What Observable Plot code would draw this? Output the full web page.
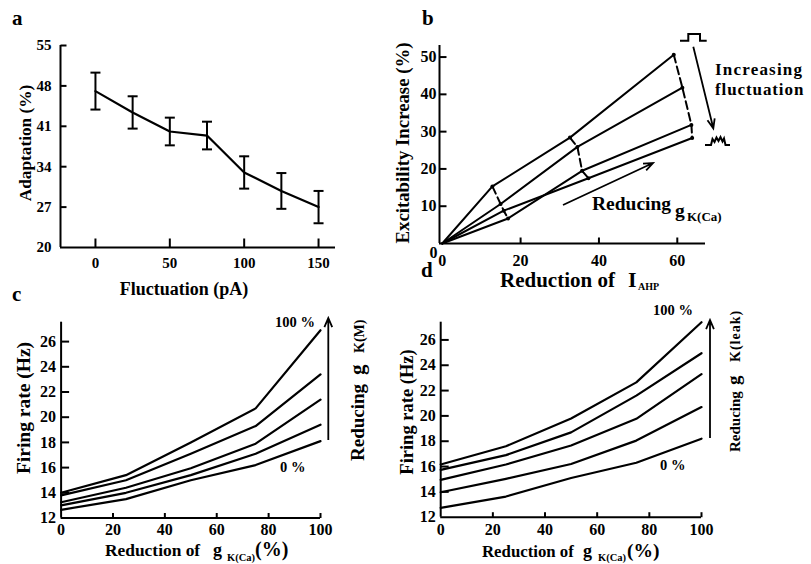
<!DOCTYPE html>
<html><head><meta charset="utf-8">
<script src="https://cdn.jsdelivr.net/npm/d3@7"></script>
<script src="https://cdn.jsdelivr.net/npm/@observablehq/plot@0.6"></script>
<style>
html,body{margin:0;padding:0;background:#fff;}
#fig{position:relative;width:811px;height:564px;overflow:hidden;background:#fff;}
</style></head><body><div id="fig"></div>
<script>
// ---------------- data ----------------
// panel a: adaptation vs fluctuation (mean ± error)
const fluctuation = [0, 25, 50, 75, 100, 125, 150];
const adaptation = [47.1, 43.4, 40.1, 39.4, 33.0, 29.8, 27.0];
const adaptationErr = [3.2, 2.8, 2.4, 2.4, 2.8, 3.1, 2.8];
const aXTicks = [0, 50, 100, 150];
const aYTicks = [20, 27, 34, 41, 48, 55];

// panel b: excitability increase vs reduction of I_AHP, four fluctuation levels
const bCurves = ["fluctuation 1", "fluctuation 2", "fluctuation 3", "fluctuation 4"];
const bReduction = [
  [0, 12.8, 32.6, 59.1],
  [0, 14.9, 34.5, 61.3],
  [0, 16.8, 35.7, 63.6],
  [0, 15.7, 37.3, 63.8]
];
const bExcitability = [
  [0, 15.3, 28.4, 50.6],
  [0, 10.6, 25.9, 41.8],
  [0, 6.7, 19.5, 31.8],
  [0, 8.8, 17.5, 28.3]
];
const bXTicks = [0, 20, 40, 60];
const bYTicks = [10, 20, 30, 40, 50];

// panels c, d: firing rate vs reduction of gK(Ca)
const gkcaReduction = [0, 25, 50, 75, 100];
const levels = ["100 %", "75 %", "50 %", "25 %", "0 %"];
const cRates = [
  [14.0, 15.4, 18.0, 20.7, 26.9],
  [13.8, 15.0, 17.1, 19.3, 23.4],
  [13.25, 14.4, 15.95, 17.9, 21.4],
  [13.0, 14.0, 15.4, 17.1, 19.4],
  [12.65, 13.5, 15.0, 16.2, 18.1]
];
const dRates = [
  [16.16, 17.6, 19.8, 22.65, 27.4],
  [15.74, 16.9, 18.7, 21.6, 24.95],
  [14.95, 16.16, 17.66, 19.77, 23.3],
  [13.97, 15.03, 16.2, 18.05, 20.7],
  [12.74, 13.63, 15.1, 16.3, 18.2]
];
const cdXTicks = [0, 20, 40, 60, 80, 100];
const cdYTicks = [12, 14, 16, 18, 20, 22, 24, 26];

// ---------------- helpers ----------------
const W = 811, H = 564;
const fig = document.getElementById("fig");
const FONT = "'Liberation Serif','Times New Roman',serif";
const baseStyle = (size) => ({fontFamily: FONT, fontSize: size + "px", fontWeight: "bold", color: "#000", background: "none", overflow: "visible"});
function place(svg, left, top) {
  svg.style.position = "absolute";
  svg.style.left = left + "px";
  svg.style.top = top + "px";
  svg.style.maxWidth = "none";
  fig.appendChild(svg);
  return svg;
}
const lineSym = (x1, y1, x2, y2) => ({draw(ctx, size) { const r = Math.sqrt(size / Math.PI); ctx.moveTo(x1 * r, y1 * r); ctx.lineTo(x2 * r, y2 * r); }});
const capSym = lineSym(-1, 0, 1, 0);
const tickRight = lineSym(0, 0, 1, 0);
const tickUp = lineSym(0, 0, 0, -1);
const ink = {stroke: "#000", fill: "none", strokeWidth: 2};

// ---------------- panel a ----------------
const aRows = fluctuation.map((x, i) => ({x, y: adaptation[i], lo: adaptation[i] - adaptationErr[i], hi: adaptation[i] + adaptationErr[i]}));
const aX = [-23.5, 161.4], aY = [20, 55];
place(Plot.plot({
  width: 345, height: 300, marginLeft: 60, marginRight: 10, marginTop: 45, marginBottom: 53,
  style: baseStyle(15),
  x: {domain: aX}, y: {domain: aY},
  marks: [
    Plot.ruleX([aX[0]], {strokeWidth: 2}),
    Plot.ruleY([aY[0]], {strokeWidth: 2}),
    Plot.dot(aYTicks.slice(1), {x: () => aX[0], y: d => d, symbol: tickRight, r: 6, ...ink}),
    Plot.dot(aXTicks, {x: d => d, y: () => aY[0], symbol: tickUp, r: 9, ...ink}),
    Plot.axisX(aXTicks, {tickSize: 0, tickPadding: 10, label: null}),
    Plot.axisY(aYTicks, {tickSize: 0, tickPadding: 9, label: null}),
    Plot.ruleX(aRows, {x: "x", y1: "lo", y2: "hi", strokeWidth: 2}),
    Plot.dot(aRows, {x: "x", y: "lo", symbol: capSym, r: 5, ...ink}),
    Plot.dot(aRows, {x: "x", y: "hi", symbol: capSym, r: 5, ...ink}),
    Plot.line(aRows, {x: "x", y: "y", strokeWidth: 2.2})
  ]
}), 0, 0);

// ---------------- panel b ----------------
const bRows = bCurves.flatMap((c, i) => bReduction[i].map((x, j) => ({curve: c, step: j, x, y: bExcitability[i][j]})));
const bSteps = bRows.filter(d => d.step > 0).sort((a, b) => a.step - b.step || b.y - a.y);
const bX = [-0.7, 67.2], bY = [0, 53.1];
place(Plot.plot({
  width: 416, height: 300, marginLeft: 44, marginRight: 106, marginTop: 45, marginBottom: 57,
  style: baseStyle(16),
  x: {domain: bX}, y: {domain: bY},
  marks: [
    Plot.ruleX([bX[0]], {strokeWidth: 2}),
    Plot.ruleY([bY[0]], {strokeWidth: 2}),
    Plot.dot(bYTicks, {x: () => bX[0], y: d => d, symbol: tickRight, r: 7, ...ink}),
    Plot.dot(bXTicks.slice(1), {x: d => d, y: () => bY[0], symbol: tickUp, r: 6, ...ink}),
    Plot.axisX(bXTicks, {tickSize: 0, tickPadding: 11, label: null}),
    Plot.axisY(bYTicks, {tickSize: 0, tickPadding: 3, label: null}),
    Plot.text(["0"], {text: d => d, frameAnchor: "bottom-left", dx: -10, dy: 14}),
    Plot.line(bRows, {x: "x", y: "y", z: "curve", strokeWidth: 2}),
    Plot.line(bSteps, {x: "x", y: "y", z: "step", strokeWidth: 2, strokeDasharray: "8,4"}),
    Plot.dot(bSteps, {x: "x", y: "y", r: 2, fill: "#000"})
  ]
}), 395, 0);

// ---------------- panels c, d ----------------
function firingPanel(rates, left, top, width, mL, mR, mB, yMax) {
  const rows = rates.flatMap((r, i) => r.map((v, j) => ({level: levels[i], x: gkcaReduction[j], y: v})));
  const X = [0, 100], Y = [12, yMax];
  return place(Plot.plot({
    width, height: 274, marginLeft: mL, marginRight: mR, marginTop: 31.7, marginBottom: mB,
    style: baseStyle(16),
    x: {domain: X}, y: {domain: Y},
    marks: [
      Plot.ruleX([X[0]], {strokeWidth: 2}),
      Plot.ruleY([Y[0]], {strokeWidth: 2}),
      Plot.dot(cdYTicks.slice(1), {x: () => X[0], y: d => d, symbol: tickRight, r: 8, ...ink}),
      Plot.dot(cdXTicks.slice(1), {x: d => d, y: () => Y[0], symbol: tickUp, r: 5, ...ink}),
      Plot.axisX(cdXTicks, {tickSize: 0, tickPadding: 6, label: null}),
      Plot.axisY(cdYTicks, {tickSize: 0, tickPadding: 5, label: null}),
      Plot.line(rows, {x: "x", y: "y", z: "level", strokeWidth: 2.2})
    ]
  }), left, top);
}
firingPanel(cRates, 0, 290, 340, 60.6, 20, 46.5, 27.54);
firingPanel(dRates, 400, 290, 320, 40.2, 19, 47.3, 27.4);

// ---------------- annotations / labels ----------------
const ov = d3.create("svg").attr("width", W).attr("height", H)
  .style("position", "absolute").style("left", "0px").style("top", "0px")
  .attr("font-family", FONT).attr("font-weight", "bold").attr("fill", "#000");
function txt(parent, x, y, s, size, anchor) {
  const t = parent.append("text").attr("x", x).attr("y", y).attr("font-size", size).text(s);
  if (anchor) t.attr("text-anchor", anchor);
  return t;
}
function rot(x, y) { return ov.append("g").attr("transform", `translate(${x},${y}) rotate(-90)`); }
function arrow(x1, y1, x2, y2, len = 10, spread = 0.38, sw = 1.8) {
  const a = Math.atan2(y2 - y1, x2 - x1);
  const p = (ang) => [x2 - len * Math.cos(a - ang), y2 - len * Math.sin(a - ang)];
  const [lx, ly] = p(spread), [rx, ry] = p(-spread);
  ov.append("path").attr("d", `M${x1},${y1}L${x2},${y2}M${lx},${ly}L${x2},${y2}L${rx},${ry}`)
    .attr("fill", "none").attr("stroke", "#000").attr("stroke-width", sw);
}

// panel letters
txt(ov, 12, 25, "a", 21); txt(ov, 422, 25, "b", 21);
txt(ov, 12, 301, "c", 21); txt(ov, 421, 277, "d", 21);

// panel a labels
txt(rot(31, 143), 0, 0, "Adaptation (%)", 17.3, "middle");
txt(ov, 184, 295, "Fluctuation (pA)", 18, "middle");

// panel b labels
txt(rot(409, 143), 0, 0, "Excitability Increase (%)", 18.8, "middle");
txt(ov, 500, 287, "Reduction of", 21);
txt(ov, 628, 287, "I", 22);
txt(ov, 638, 290, "AHP", 10);
txt(ov, 715, 75, "Increasing", 17).attr("letter-spacing", 1.2);
txt(ov, 715, 95, "fluctuation", 17).attr("letter-spacing", 0.9);
txt(ov, 592, 210, "Reducing", 19.5);
txt(ov, 675, 217, "g", 19.5);
txt(ov, 687, 221, "K(Ca)", 13);
ov.append("path").attr("d", "M680,40.7H688.3V34H700V40.7H706.7").attr("fill", "none").attr("stroke", "#000").attr("stroke-width", 2);
ov.append("path").attr("d", "M705,145H711L712.5,139L714.5,142L716.5,137.5L718.5,141L720.5,137L722.5,141.5L724,138.5L725.5,145H730").attr("fill", "none").attr("stroke", "#000").attr("stroke-width", 2);
arrow(693.3, 46.7, 713.3, 128.3);
arrow(563, 205, 653, 163);

// panel c labels
txt(rot(30, 408), 0, 0, "Firing rate (Hz)", 19.5, "middle");
txt(ov, 105, 556, "Reduction of", 17.4);
txt(ov, 213, 556, "g", 18);
txt(ov, 227, 561, "K(Ca)", 10.5);
txt(ov, 255, 556, "(%)", 20);
txt(ov, 275, 327, "100 %", 14.5);
txt(ov, 280, 472, "0 %", 14.5);
arrow(328.3, 440, 328.3, 318, 10, 0.4);
{ const g = rot(364, 461); txt(g, 0, 0, "Reducing", 19); txt(g, 86, 0, "g", 21); txt(g, 108, 0, "K(M)", 14); }

// panel d labels
txt(rot(413, 412), 0, 0, "Firing rate (Hz)", 18.5, "middle");
txt(ov, 482, 557, "Reduction of", 16.8);
txt(ov, 583, 557, "g", 18);
txt(ov, 598, 561, "K(Ca)", 10.5);
txt(ov, 627, 557, "(%)", 19.5);
txt(ov, 653, 315, "100 %", 14.5);
txt(ov, 660, 470, "0 %", 14.5);
arrow(710, 438, 710, 320, 10, 0.4);
{ const g = rot(740, 452); txt(g, 0, 0, "Reducing", 15); txt(g, 67, 0, "g", 19); txt(g, 90, 0, "K(leak)", 14).attr("letter-spacing", 1); }

fig.appendChild(ov.node());
</script>
</body></html>
